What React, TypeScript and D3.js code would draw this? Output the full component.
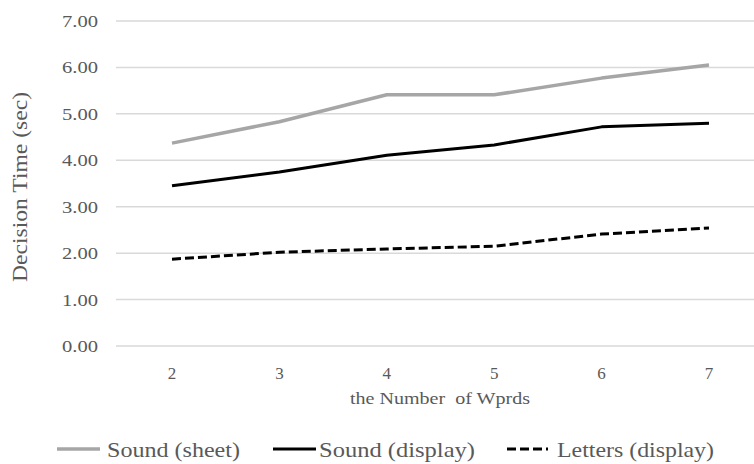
import React from "react";
import * as d3 from "d3";

const categories = ["2", "3", "4", "5", "6", "7"];
const soundSheet = [4.37, 4.83, 5.41, 5.41, 5.77, 6.05];
const soundDisplay = [3.45, 3.75, 4.11, 4.33, 4.72, 4.8];
const lettersDisplay = [1.87, 2.02, 2.09, 2.15, 2.41, 2.54];
const yTicks = [0, 1, 2, 3, 4, 5, 6, 7];

const W = 754;
const H = 464;

export default function App() {
  const x = d3.scalePoint<string>().domain(categories).range([172, 709]);
  const y = d3.scaleLinear().domain([0, 7]).range([346, 21]);
  const line = d3
    .line<number>()
    .x((_, i) => x(categories[i]) as number)
    .y((d) => y(d));

  const series = [
    { name: "Sound (sheet)", data: soundSheet, color: "#a6a6a6", width: 3.5, dash: undefined as string | undefined },
    { name: "Sound (display)", data: soundDisplay, color: "#000000", width: 3, dash: undefined as string | undefined },
    { name: "Letters (display)", data: lettersDisplay, color: "#000000", width: 3, dash: "9,4" },
  ];

  const legend = [
    { x1: 57, x2: 100, tx: 107, tl: 133 },
    { x1: 273, x2: 316, tx: 319, tl: 156 },
    { x1: 507, x2: 548, tx: 557, tl: 157 },
  ];

  const font = "'Liberation Serif', 'Times New Roman', serif";
  const textColor = "#595959";

  return (
    <svg
      width={W}
      height={H}
      style={{ position: "absolute", left: 0, top: 0, background: "#fff" }}
      fontFamily={font}
    >
      <rect width={W} height={H} fill="#ffffff" />
      {yTicks.map((t) => (
        <g key={t}>
          <line x1={116} x2={754} y1={y(t)} y2={y(t)} stroke="#d9d9d9" strokeWidth={1.5} />
          <text
            x={98}
            y={y(t)}
            dy="0.35em"
            textAnchor="end"
            fontSize={17}
            fill={textColor}
            textLength={36}
            lengthAdjust="spacingAndGlyphs"
          >
            {t.toFixed(2)}
          </text>
        </g>
      ))}
      {categories.map((c) => (
        <text
          key={c}
          x={x(c) as number}
          y={373}
          dy="0.35em"
          textAnchor="middle"
          fontSize={17}
          fill={textColor}
        >
          {c}
        </text>
      ))}
      {series.map((s) => (
        <path
          key={s.name}
          d={line(s.data) || ""}
          fill="none"
          stroke={s.color}
          strokeWidth={s.width}
          strokeDasharray={s.dash}
          strokeLinejoin="round"
        />
      ))}
      <text
        x={440}
        y={398}
        dy="0.35em"
        textAnchor="middle"
        fontSize={17}
        fill={textColor}
        textLength={180}
        lengthAdjust="spacingAndGlyphs"
        style={{ whiteSpace: "pre" }}
      >
        {"the Number  of Wprds"}
      </text>
      <text
        transform="translate(20,187) rotate(-90)"
        textAnchor="middle"
        dy="0.35em"
        fontSize={21}
        fill={textColor}
        textLength={190}
        lengthAdjust="spacingAndGlyphs"
      >
        Decision Time (sec)
      </text>
      {series.map((s, i) => (
        <g key={s.name}>
          <line
            x1={legend[i].x1}
            x2={legend[i].x2}
            y1={449}
            y2={449}
            stroke={s.color}
            strokeWidth={s.width}
            strokeDasharray={s.dash}
          />
          <text
            x={legend[i].tx}
            y={449}
            dy="0.35em"
            fontSize={22}
            fill={textColor}
            textLength={legend[i].tl}
            lengthAdjust="spacingAndGlyphs"
          >
            {s.name}
          </text>
        </g>
      ))}
    </svg>
  );
}
